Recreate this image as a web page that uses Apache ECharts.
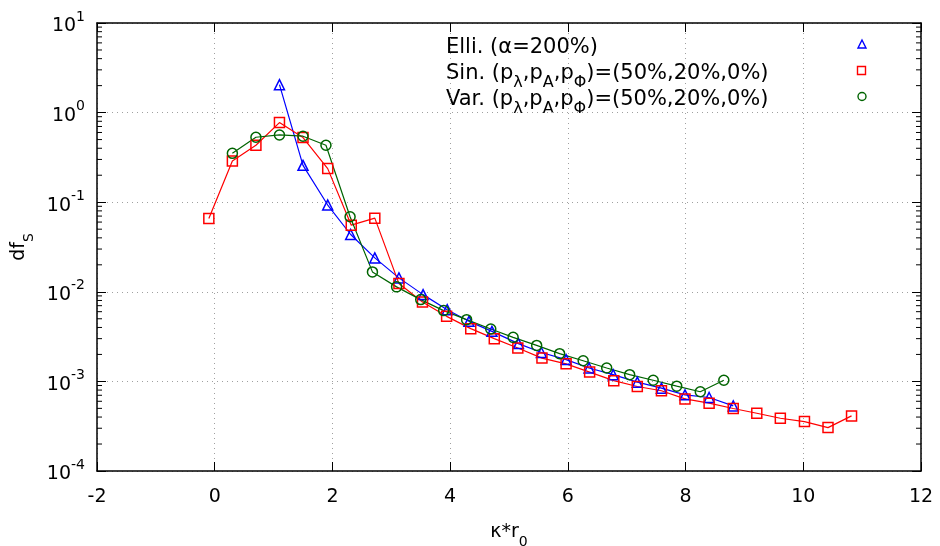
<!DOCTYPE html>
<html><head><meta charset="utf-8">
<script src="https://cdn.jsdelivr.net/npm/echarts@6/dist/echarts.min.js"></script>
<style>html,body{margin:0;padding:0;background:#fff}#c{width:940px;height:546px}</style>
</head><body><div id="c"></div>
<script>
// ---- data ----
const elliX = [1.10,1.50,1.92,2.31,2.72,3.13,3.54,3.95,4.32,4.71,5.16,5.55,5.97,6.36,6.77,7.18,7.59,7.99,8.40,8.81];
const elliY = [2.05,0.258,0.093,0.0436,0.0239,0.0143,0.0093,0.00632,0.00468,0.00362,0.00264,0.00210,0.00175,0.00141,0.00119,0.00098,0.000841,0.000708,0.000661,0.000533];
const sinX = [-0.10,0.30,0.70,1.10,1.50,1.92,2.32,2.72,3.13,3.53,3.94,4.35,4.75,5.15,5.56,5.97,6.37,6.78,7.18,7.59,7.99,8.40,8.81,9.21,9.61,10.02,10.42,10.82];
const sinY = [0.0659,0.288,0.432,0.774,0.526,0.237,0.0554,0.0664,0.01235,0.0077,0.00532,0.00388,0.0030,0.00236,0.00182,0.00157,0.00127,0.00102,0.000877,0.000786,0.000638,0.000571,0.000498,0.000441,0.000388,0.000356,0.000305,0.000412];
const varX = [0.30,0.70,1.10,1.50,1.89,2.30,2.68,3.09,3.50,3.89,4.28,4.69,5.07,5.47,5.86,6.26,6.66,7.05,7.45,7.85,8.25,8.65];
const varY = [0.351,0.531,0.563,0.545,0.432,0.0689,0.01668,0.01135,0.00818,0.00617,0.00489,0.00385,0.0031,0.00252,0.00204,0.00170,0.00141,0.00119,0.00103,0.000885,0.000766,0.00103];
const xTicks = [-2,0,2,4,6,8,10,12];
const yDecades = [-4,-3,-2,-1,0,1];
const minorMantissa = [2,3,4,5,6,7,8,9];
const legendNames = ['Elli. (α=200%)','Sin. (pλ,pA,pΦ)=(50%,20%,0%)','Var. (pλ,pA,pΦ)=(50%,20%,0%)'];

const F = 'DejaVu Sans';
const zip = (xs, ys) => xs.map((x, i) => [x, ys[i]]);
const minorData = [];
yDecades.slice(0, -1).forEach(d => minorMantissa.forEach(m => {
  const v = m * Math.pow(10, d);
  minorData.push([xTicks[0], v, 1]);
  minorData.push([xTicks[xTicks.length - 1], v, -1]);
}));

const supRich = {
  b: {fontFamily: F, fontSize: 19, color: '#000', lineHeight: 26, verticalAlign: 'bottom'},
  s: {fontFamily: F, fontSize: 14, color: '#000', lineHeight: 14, verticalAlign: 'top'}
};
const subRich = {
  b: {fontFamily: F, fontSize: 19, color: '#000', lineHeight: 26, verticalAlign: 'top'},
  u: {fontFamily: F, fontSize: 14, color: '#000', lineHeight: 14, verticalAlign: 'bottom'}
};
const legRich = {
  b: {fontFamily: F, fontSize: 21, color: '#000', lineHeight: 28, verticalAlign: 'top'},
  u: {fontFamily: F, fontSize: 16, color: '#000', lineHeight: 16, verticalAlign: 'bottom'}
};
const grid = {left: 97, right: 19, top: 23, bottom: 75, containLabel: false, outerBoundsMode: 'none'};
const axisLine = {show: true, onZero: false, lineStyle: {color: '#000', width: 1.5}};
const tick = {show: true, inside: true, length: 9, lineStyle: {color: '#000', width: 1}};
const split = {show: true, lineStyle: {color: '#a0a0a0', width: 1, type: [1, 4]}};

function line(name, xs, ys, color, symbol, size) {
  return {
    name, type: 'line', data: zip(xs, ys), symbol, symbolSize: size,
    lineStyle: {color, width: 1.2}, itemStyle: {color: 'rgba(0,0,0,0)', borderColor: color, borderWidth: 1.5},
    showSymbol: true, animation: false, z: 3
  };
}

const chart = echarts.init(document.getElementById('c'));
const legendY = [46, 72, 98];
const legendCol = ['#0000ff', '#ff0000', '#006400'];
function richLegend(s) {
  return ('{b|' + s.replace(/p([λAΦ])/g, 'p}{u|$1}{b|') + '}');
}
const gfx = [];
legendNames.forEach((n, i) => {
  gfx.push({type: 'text', left: 446, top: legendY[i] - 9, style: {text: richLegend(n), rich: legRich, fill: '#000'}});
});
gfx.push({type: 'polygon', shape: {points: [[862, 40], [858, 48], [866, 48]]}, style: {fill: 'none', stroke: legendCol[0], lineWidth: 1.4}});
gfx.push({type: 'rect', shape: {x: 857.5, y: 66.5, width: 8, height: 8}, style: {fill: 'none', stroke: legendCol[1], lineWidth: 1.4}});
gfx.push({type: 'circle', shape: {cx: 862, cy: 96.5, r: 4}, style: {fill: 'none', stroke: legendCol[2], lineWidth: 1.4}});

chart.setOption({
  animation: false,
  backgroundColor: '#fff',
  grid,
  xAxis: [{
    type: 'value', min: -2, max: 12, interval: 2, position: 'bottom',
    axisLine, axisTick: tick,
    axisLabel: {margin: 17, fontFamily: F, fontSize: 19, color: '#000'},
    splitLine: split,
    name: '{b|κ*r}{u|0}', nameLocation: 'middle', nameGap: 52,
    nameTextStyle: {rich: subRich}
  }, {
    type: 'value', min: -2, max: 12, interval: 2, position: 'top',
    axisLine, axisTick: tick,
    axisLabel: {show: false}, splitLine: {show: false}
  }],
  yAxis: [{
    type: 'log', logBase: 10, min: 1e-4, max: 10, interval: 1, position: 'left',
    axisLine, axisTick: tick,
    axisLabel: {margin: 12, formatter: v => '{b|10}{s|' + Math.round(Math.log10(v)) + '}', rich: supRich},
    splitLine: split,
    name: '{b|df}{u|S}', nameLocation: 'middle', nameGap: 60,
    nameTextStyle: {rich: subRich}
  }, {
    type: 'log', logBase: 10, min: 1e-4, max: 10, interval: 1, position: 'right',
    axisLine, axisTick: tick,
    axisLabel: {show: false}, splitLine: {show: false}
  }],
  graphic: gfx,
  series: [
    {
      type: 'custom', data: minorData, silent: true, clip: false, z: 1,
      renderItem: (params, api) => {
        const p = api.coord([api.value(0), api.value(1)]);
        return {type: 'line', shape: {x1: p[0], y1: p[1], x2: p[0] + api.value(2) * 5, y2: p[1]},
          style: {stroke: '#000', lineWidth: 1}};
      }
    },
    line(legendNames[0], elliX, elliY, legendCol[0], 'triangle', 10),
    line(legendNames[1], sinX, sinY, legendCol[1], 'rect', 10),
    line(legendNames[2], varX, varY, legendCol[2], 'circle', 10)
  ]
});
</script>
</body></html>
